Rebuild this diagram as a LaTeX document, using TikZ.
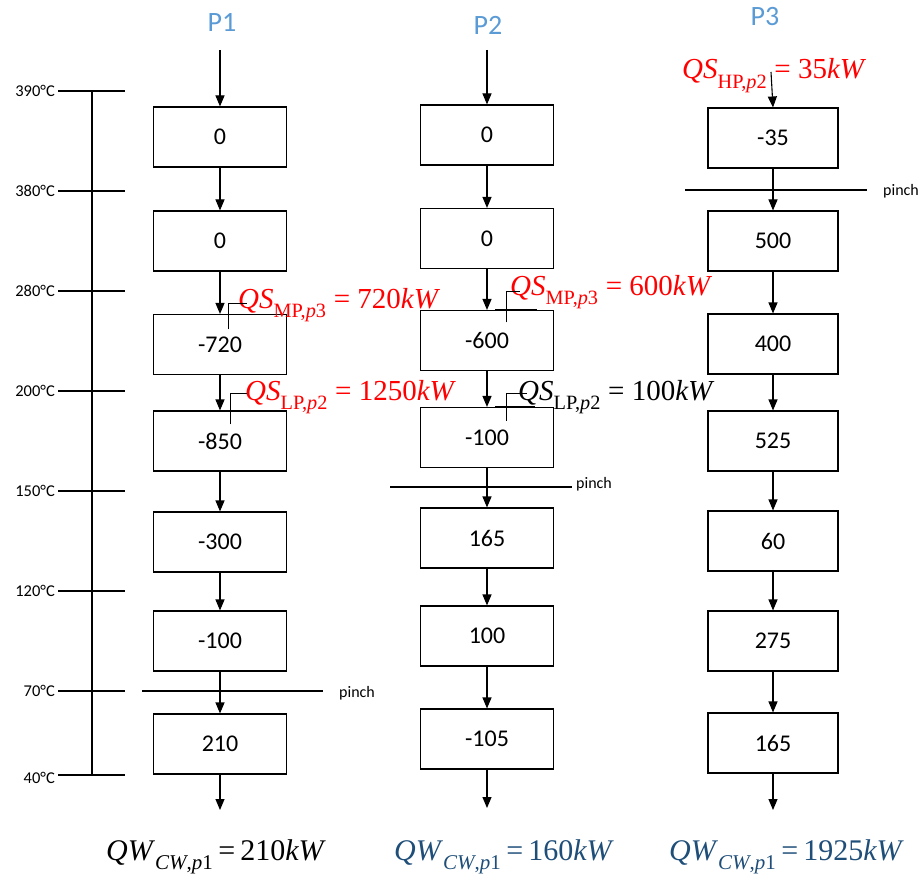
\documentclass[tikz,border=0pt]{standalone}
\usepackage{fontspec}
\setmainfont{Carlito}
\newfontfamily\tnr{Liberation Serif}
\usepackage{xcolor}
\usetikzlibrary{arrows.meta, positioning, calc}

\definecolor{plabel}{RGB}{91,155,213}
\definecolor{cwblue}{RGB}{31,78,121}

% quantity with subscript, e.g. QS_{MP,p3}
\newcommand{\qsub}[2]{\textit{#1}\raisebox{-0.15em}{\textsubscript{#2}}}

\begin{document}
\begin{tikzpicture}[
    x=1pt, y=-1pt,
    box/.style={draw, line width=1.1pt, minimum width=133pt, minimum height=60pt, inner sep=0pt, font=\fontsize{24}{28}\selectfont},
    flow/.style={-{Triangle[length=11pt,width=9pt]}, line width=1.1pt},
    scaleline/.style={line width=1.8pt},
    pinchline/.style={line width=1.6pt},
    leader/.style={line width=1pt},
    templbl/.style={anchor=east, inner sep=0pt, font=\fontsize{16.5}{19}\selectfont},
    pinchlbl/.style={anchor=west, inner sep=0pt, font=\fontsize{16}{19}\selectfont},
    plbl/.style={text=plabel, font=\fontsize{28}{32}\selectfont},
    heat/.style={anchor=base west, inner sep=0pt, font=\tnr\fontsize{29}{34}\selectfont},
    cw/.style={anchor=base west, inner sep=0pt, font=\tnr\fontsize{30}{34}\selectfont}
    ]
    \useasboundingbox (0,0) rectangle (923,877);

    % --- Temperature scale ---
    \draw[scaleline] (92,91) -- (92,775);
    \draw[scaleline] (58,91) -- (125,91);   \node[templbl] (t390) at (55,91) {390°C};
    \draw[scaleline] (58,191) -- (125,191); \node[templbl] (t380) at (55,191) {380°C};
    \draw[scaleline] (58,291) -- (125,291); \node[templbl] (t280) at (55,291) {280°C};
    \draw[scaleline] (58,391) -- (125,391); \node[templbl] (t200) at (55,391) {200°C};
    \draw[scaleline] (58,491) -- (125,491); \node[templbl] (t150) at (55,491) {150°C};
    \draw[scaleline] (58,591) -- (125,591); \node[templbl] (t120) at (55,591) {120°C};
    \draw[scaleline] (58,691) -- (125,691); \node[templbl] (t70) at (55,691) {70°C};
    \draw[scaleline] (58,775) -- (125,775); \node[templbl] (t40) at (55,778) {40°C};

    % --- P1 ---
    \node[plbl] (p1) at (222,22) {P1};
    \coordinate (p1in) at (220,50);
    \node[box] (p1b1) at (220,137) {0};
    \node[box] (p1b2) at (220,241) {0};
    \node[box] (p1b3) at (220,344.5) {-720};
    \node[box] (p1b4) at (220,441) {-850};
    \node[box] (p1b5) at (220,542) {-300};
    \node[box] (p1b6) at (220,641) {-100};
    \node[box] (p1b7) at (220,744) {210};
    \coordinate (p1out) at (220,810);

    \draw[flow] (p1in) -- (p1b1);
    \draw[flow] (p1b1) -- (p1b2);
    \draw[flow] (p1b2) -- (p1b3);
    \draw[flow] (p1b3) -- (p1b4);
    \draw[flow] (p1b4) -- (p1b5);
    \draw[flow] (p1b5) -- (p1b6);
    \draw[flow] (p1b6) -- (p1b7);
    \draw[flow] (p1b7) -- (p1out);

    \draw[pinchline] (142,691) -- (323,691);
    \node[pinchlbl] (pinch1) at (339,693) {pinch};

    % --- P2 ---
    \node[plbl] (p2) at (488,25) {P2};
    \coordinate (p2in) at (487,50);
    \node[box] (p2b1) at (487,135) {0};
    \node[box] (p2b2) at (487,238.5) {0};
    \node[box] (p2b3) at (487,340.5) {-600};
    \node[box] (p2b4) at (487,437.5) {-100};
    \node[box] (p2b5) at (487,538) {165};
    \node[box] (p2b6) at (487,636) {100};
    \node[box] (p2b7) at (487,739) {-105};
    \coordinate (p2out) at (487,808);

    \draw[flow] (p2in) -- (p2b1);
    \draw[flow] (p2b1) -- (p2b2);
    \draw[flow] (p2b2) -- (p2b3);
    \draw[flow] (p2b3) -- (p2b4);
    \draw[flow] (p2b4) -- (p2b5);
    \draw[flow] (p2b5) -- (p2b6);
    \draw[flow] (p2b6) -- (p2b7);
    \draw[flow] (p2b7) -- (p2out);

    \draw[pinchline] (390,487) -- (572,487);
    \node[pinchlbl] (pinch2) at (576,484) {pinch};

    % --- P3 ---
    \node[plbl] (p3) at (765,17) {P3};
    \node[box, minimum width=130pt] (p3b1) at (773,138) {-35};
    \node[box, minimum width=130pt] (p3b2) at (773,241) {500};
    \node[box, minimum width=130pt] (p3b3) at (773,344) {400};
    \node[box, minimum width=130pt] (p3b4) at (773,441) {525};
    \node[box, minimum width=130pt] (p3b5) at (773,541) {60};
    \node[box, minimum width=130pt] (p3b6) at (773,641) {275};
    \node[box, minimum width=130pt] (p3b7) at (773,743) {165};
    \coordinate (p3in) at (771,72);
    \coordinate (p3out) at (773,810);

    \draw[flow] (p3in) -- (p3b1.north);
    \draw[flow] (p3b1) -- (p3b2);
    \draw[flow] (p3b2) -- (p3b3);
    \draw[flow] (p3b3) -- (p3b4);
    \draw[flow] (p3b4) -- (p3b5);
    \draw[flow] (p3b5) -- (p3b6);
    \draw[flow] (p3b6) -- (p3b7);
    \draw[flow] (p3b7) -- (p3out);

    \draw[pinchline] (685,190) -- (867,190);
    \node[pinchlbl] (pinch3) at (883,191) {pinch};

    % --- Steam supply labels ---
    \node[heat, text=red] (qs1) at (238,308) {\qsub{QS}{MP,\textit{p}3} = 720\textit{kW}};
    \draw[leader] ([xshift=8pt,yshift=-15.5pt]p1b3.north) |- ([xshift=9pt,yshift=5pt]qs1.base west);

    \node[heat, text=red] (qs2) at (245,400) {\qsub{QS}{LP,\textit{p}2} = 1250\textit{kW}};
    \draw[leader] ([xshift=10pt,yshift=-14pt]p1b4.north) |- ([xshift=2pt,yshift=7pt]qs2.base west);

    \node[heat, text=red] (qs3) at (510,295) {\qsub{QS}{MP,\textit{p}3} = 600\textit{kW}};
    \draw[leader] ([xshift=19pt,yshift=-12.5pt]p2b3.north) |- ([xshift=10pt,yshift=4pt]qs3.base west);
    \draw[line width=2pt] ([xshift=8pt]p2b3.north) -- ([xshift=50pt]p2b3.north);

    \node[heat] (qs4) at (518,400) {\qsub{QS}{LP,\textit{p}2} = 100\textit{kW}};
    \draw[leader] ([xshift=19pt,yshift=-14pt]p2b4.north) |- ([xshift=9pt,yshift=7pt]qs4.base west);
    \draw[line width=2pt] ([xshift=8pt]p2b4.north) -- ([xshift=48pt]p2b4.north);

    \node[heat, text=red] (qs5) at (682,79) {\qsub{QS}{HP,\textit{p}2} = 35\textit{kW}};

    % --- Cooling water ---
    \node[cw] (qw1) at (106,860) {\qsub{QW}{\textit{CW},\textit{p}1}\,=\,210\textit{kW}};
    \node[cw, text=cwblue] (qw2) at (394,860) {\qsub{QW}{\textit{CW},\textit{p}1}\,=\,160\textit{kW}};
    \node[cw, text=cwblue] (qw3) at (669,860) {\qsub{QW}{\textit{CW},\textit{p}1}\,=\,1925\textit{kW}};

\end{tikzpicture}
\end{document}
